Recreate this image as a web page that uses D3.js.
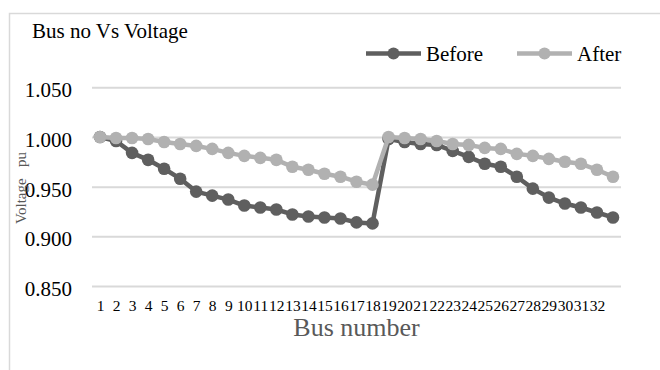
<!DOCTYPE html>
<html><head><meta charset="utf-8">
<script src="https://cdn.jsdelivr.net/npm/d3@7"></script>
<style>body{margin:0;background:#fff}svg{display:block}</style>
</head><body><svg id="chart" width="660" height="370"></svg>
<script>
const busLabels = ["1","2","3","4","5","6","7","8","9","10","11","12","13","14","15","16","17","18","19","20","21","22","23","24","25","26","27","28","29","30","31","32",""];
const beforeValues = [1.000,0.996,0.984,0.977,0.968,0.958,0.945,0.941,0.937,0.931,0.929,0.927,0.922,0.920,0.919,0.918,0.914,0.913,0.998,0.995,0.993,0.992,0.986,0.980,0.973,0.970,0.960,0.948,0.939,0.933,0.929,0.924,0.919];
const afterValues = [1.000,0.999,0.999,0.998,0.995,0.993,0.991,0.988,0.984,0.981,0.979,0.977,0.970,0.967,0.963,0.960,0.955,0.952,1.000,0.999,0.998,0.996,0.993,0.992,0.989,0.988,0.983,0.981,0.978,0.975,0.973,0.967,0.960];
const yTicks = [0.85,0.90,0.95,1.00,1.05];
const seriesNames = ["Before","After"];

const FONT = "'Liberation Serif','Times New Roman',serif";
const colors = {Before:"#5f5f5f", After:"#b1b1b1"};
const svg = d3.select("#chart");

// chart border
svg.append("rect").attr("x",9.5).attr("y",13.5).attr("width",700).attr("height",400)
  .attr("fill","none").attr("stroke","#d9d9d9").attr("stroke-width",1.5);

const pLeft = 92, pRight = 621, pTop = 87.3, pBottom = 286;
const idx = d3.range(busLabels.length);
const x = d3.scalePoint().domain(idx).range([pLeft,pRight]).padding(0.5);
const y = d3.scaleLinear().domain([0.85,1.05]).range([pBottom,pTop]);

// y axis + gridlines
const ya = svg.append("g").attr("transform",`translate(${pLeft},0)`)
  .call(d3.axisLeft(y).tickValues(yTicks).tickFormat(d3.format(".3f"))
    .tickSizeInner(-(pRight-pLeft)).tickSizeOuter(0).tickPadding(20));
ya.select(".domain").remove();
ya.selectAll("line").attr("stroke","#d9d9d9").attr("stroke-width",2);
ya.selectAll("text").attr("font-family",FONT).attr("font-size",21).attr("fill","#000").attr("dy","0.46em");

// x axis labels
const xa = svg.append("g").attr("transform",`translate(0,${pBottom})`)
  .call(d3.axisBottom(x).tickFormat(i=>busLabels[i]).tickSize(0));
xa.select(".domain").remove();
xa.selectAll("text").attr("font-family",FONT).attr("font-size",15.5).attr("fill","#000").attr("y",25).attr("dy",0);

const seriesData = {Before: beforeValues, After: afterValues};
const line = d3.line().x((d,i)=>x(i)).y(d=>y(d));
seriesNames.forEach(name=>{
  const vals = seriesData[name];
  const g = svg.append("g");
  g.append("path").datum(vals).attr("d",line).attr("fill","none")
    .attr("stroke",colors[name]).attr("stroke-width",4.5).attr("stroke-linejoin","round");
  g.selectAll("circle").data(vals).join("circle")
    .attr("cx",(d,i)=>x(i)).attr("cy",d=>y(d)).attr("r",6.3).attr("fill",colors[name]);
});

// title
svg.append("text").attr("x",32).attr("y",38).attr("font-family",FONT).attr("font-size",21)
  .attr("fill","#000").text("Bus no Vs Voltage");

// legend
const legendX = [366, 517];
seriesNames.forEach((name,k)=>{
  const lx = legendX[k];
  svg.append("line").attr("x1",lx).attr("x2",lx+55).attr("y1",53.5).attr("y2",53.5)
    .attr("stroke",colors[name]).attr("stroke-width",4.5);
  svg.append("circle").attr("cx",lx+27.5).attr("cy",53.5).attr("r",6).attr("fill",colors[name]);
  svg.append("text").attr("x",lx+60).attr("y",60.5).attr("font-family",FONT).attr("font-size",21)
    .attr("fill","#000").text(name);
});

// axis titles
svg.append("text").attr("x",(pLeft+pRight)/2).attr("y",336).attr("text-anchor","middle")
  .attr("font-family",FONT).attr("font-size",26).attr("fill","#595959").text("Bus number");
svg.append("text").attr("transform","translate(26,188) rotate(-90)").attr("text-anchor","middle")
  .attr("font-family",FONT).attr("font-size",15).attr("fill","#595959")
  .style("white-space","pre").text("Voltage   pu");
</script></body></html>
